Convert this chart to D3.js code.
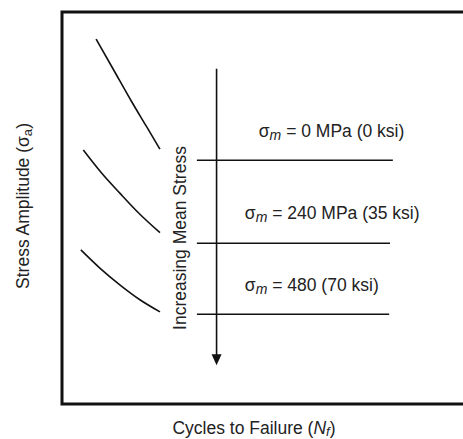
<!DOCTYPE html>
<html>
<head>
<meta charset="utf-8">
<script src="https://cdn.jsdelivr.net/npm/d3@7"></script>
<style>
  html, body { margin: 0; padding: 0; background: #fff; overflow: hidden; }
  svg { display: block; }
  text { font-family: "Liberation Sans", Arial, sans-serif; fill: #222; }
</style>
</head>
<body>
<div id="chart"></div>
<script>
// Schematic S-N curves for increasing mean stress (arbitrary units, 0-100)
const curveLow  = [[8.3, 93.1], [12.5, 85.4], [17.0, 77.1], [20.6, 70.8], [23.9, 65.0]];
const curveMid  = [[5.2, 64.8], [9.6, 59.0], [14.1, 53.8], [19.0, 48.4], [23.9, 43.7]];
const curveHigh = [[4.6, 39.3], [9.3, 34.6], [14.1, 30.4], [19.0, 26.6], [23.9, 23.5]];
const curves = [curveLow, curveMid, curveHigh];

// Endurance limits (horizontal segments): [xStart, xEnd, level]
const enduranceLimits = [[32.9, 80.7, 62.2], [32.9, 80.0, 41.0], [32.9, 79.8, 22.9]];

// Mean stress labels: σm value text and anchor (x, y in data units)
const labelTexts = ["= 0 MPa (0 ksi)", "= 240 MPa (35 ksi)", "= 480 (70 ksi)"];
const labelPos = [[48.0, 68.2], [44.6, 47.2], [44.6, 28.9]];

// Arrow for increasing mean stress: x position, y start, y end
const arrowX = 37.7;
const arrowFrom = 85.5;
const arrowTo = 9.9;

const width = 463, height = 439;
const frame = { left: 62, right: 472, top: 12, bottom: 404 };
const fontSize = 17.5;

const svg = d3.select("#chart").append("svg")
  .attr("width", width).attr("height", height);

const x = d3.scaleLinear().domain([0, 100]).range([frame.left, frame.right]);
const y = d3.scaleLinear().domain([0, 100]).range([frame.bottom, frame.top]);

// Plot frame
svg.append("rect")
  .attr("x", frame.left).attr("y", frame.top)
  .attr("width", frame.right - frame.left).attr("height", frame.bottom - frame.top)
  .attr("fill", "none").attr("stroke", "#111").attr("stroke-width", 3);

// S-N curves
const line = d3.line().x(d => x(d[0])).y(d => y(d[1])).curve(d3.curveMonotoneX);
svg.selectAll("path.sn").data(curves).join("path")
  .attr("class", "sn")
  .attr("d", line)
  .attr("fill", "none").attr("stroke", "#111").attr("stroke-width", 1.6);

// Endurance limit lines
svg.selectAll("line.endurance").data(enduranceLimits).join("line")
  .attr("class", "endurance")
  .attr("x1", d => x(d[0])).attr("x2", d => x(d[1]))
  .attr("y1", d => y(d[2])).attr("y2", d => y(d[2]))
  .attr("stroke", "#111").attr("stroke-width", 1.6);

// Arrow
svg.append("line")
  .attr("x1", x(arrowX)).attr("x2", x(arrowX))
  .attr("y1", y(arrowFrom)).attr("y2", y(arrowTo) - 8)
  .attr("stroke", "#111").attr("stroke-width", 1.6);
const tipX = x(arrowX), tipY = y(arrowTo);
svg.append("path")
  .attr("d", `M${tipX - 5},${tipY - 11}L${tipX + 5},${tipY - 11}L${tipX},${tipY}Z`)
  .attr("fill", "#111");

// Mean stress labels
const labels = svg.selectAll("text.sigma").data(labelTexts).join("text")
  .attr("class", "sigma")
  .attr("x", (d, i) => x(labelPos[i][0]))
  .attr("y", (d, i) => y(labelPos[i][1]))
  .attr("font-size", fontSize);
labels.append("tspan").text("σ");
labels.append("tspan").text("m").attr("font-style", "italic")
  .attr("font-size", fontSize * 0.8).attr("dy", 3);
labels.append("tspan").text(d => " " + d).attr("dy", -3);

// Rotated annotation along the arrow
svg.append("text")
  .attr("transform", `translate(186,238) rotate(-90)`)
  .attr("text-anchor", "middle").attr("font-size", fontSize)
  .text("Increasing Mean Stress");

// Axis titles
const yTitle = svg.append("text")
  .attr("transform", `translate(29,206) rotate(-90)`)
  .attr("text-anchor", "middle").attr("font-size", fontSize);
yTitle.append("tspan").text("Stress Amplitude (σ");
yTitle.append("tspan").text("a").attr("font-size", fontSize * 0.75).attr("dy", 3);
yTitle.append("tspan").text(")").attr("dy", -3);

const xTitle = svg.append("text")
  .attr("x", 254).attr("y", 434)
  .attr("text-anchor", "middle").attr("font-size", fontSize);
xTitle.append("tspan").text("Cycles to Failure (");
xTitle.append("tspan").text("N").attr("font-style", "italic");
xTitle.append("tspan").text("f").attr("font-style", "italic").attr("font-size", fontSize * 0.75).attr("dy", 2);
xTitle.append("tspan").text(")").attr("dy", -2);
</script>
</body>
</html>
